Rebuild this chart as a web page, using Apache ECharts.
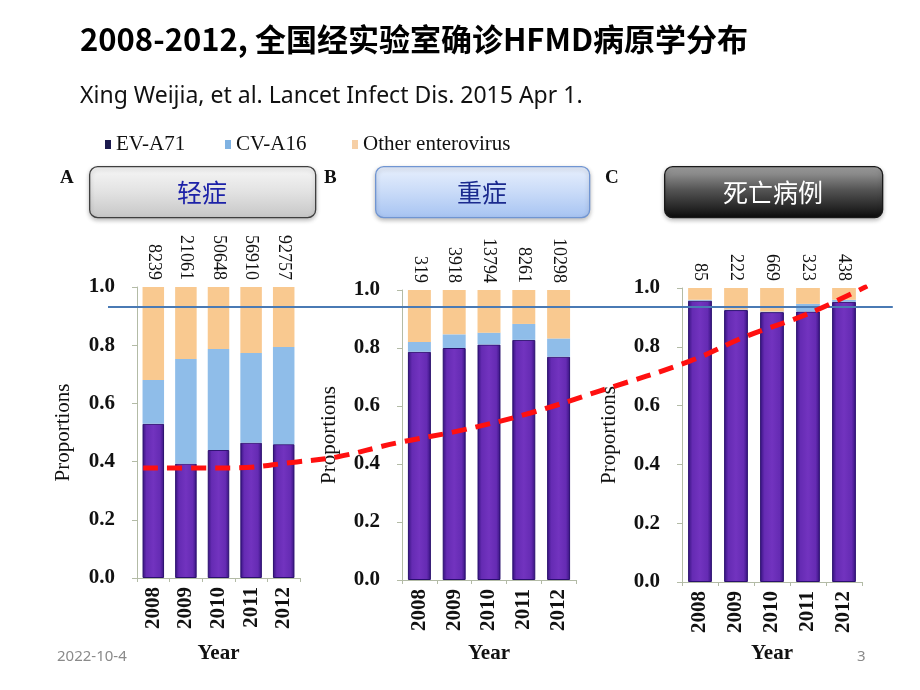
<!DOCTYPE html>
<html><head><meta charset="utf-8">
<script src="https://cdn.jsdelivr.net/npm/echarts@6/dist/echarts.min.js"></script>
<style>html,body{margin:0;padding:0;background:#fff}#c{width:920px;height:690px}</style>
</head><body><div id="c"></div>
<script>
const years = ['2008','2009','2010','2011','2012'];
const countsMild = ['8239','21061','50648','56910','92757'];
const countsSevere = ['319','3918','13794','8261','10298'];
const countsDeath = ['85','222','669','323','438'];
const mildEV = [0.53,0.393,0.44,0.465,0.46];
const mildCV = [0.15,0.36,0.347,0.308,0.334];
const mildOther = [0.32,0.247,0.213,0.227,0.206];
const severeEV = [0.787,0.80,0.812,0.828,0.77];
const severeCV = [0.034,0.047,0.041,0.055,0.063];
const severeOther = [0.179,0.153,0.147,0.117,0.167];
const deathEV = [0.957,0.925,0.918,0.92,0.953];
const deathCV = [0.003,0.002,0.002,0.026,0.007];
const deathOther = [0.04,0.073,0.08,0.054,0.04];
const yTicks = [0,0.2,0.4,0.6,0.8,1.0];
// trend annotation: x = percent across the figure width (overlay axis), y = proportion
const trendX = [5.4,16.3,24.6,29.6,37.1,45.4,53.8,62.5,73.8,80.9,88.4,95.9];
const trendY = [0.378,0.378,0.399,0.416,0.464,0.509,0.567,0.643,0.746,0.832,0.907,1.003];
const refLineX = [1,99.1];
const refLineY = [0.931,0.931];
const seriesNames = ['EV-A71','CV-A16','Other enterovirus'];
const panelTitles = ['轻症','重症','死亡病例'];
const panelLetters = ['A','B','C'];

const SERIF = '"Liberation Serif","Times New Roman",serif';
const evColor = {type:'linear',x:0,y:0,x2:1,y2:0,colorStops:[
  {offset:0,color:'#36137e'},{offset:0.18,color:'#652bb3'},{offset:0.5,color:'#7233bf'},
  {offset:0.82,color:'#652bb3'},{offset:1,color:'#36137e'}]};
const cvColor = '#8fbde9';
const otColor = '#f9c990';

const grids = [
  {left:137, top:287, width:163, height:291},
  {left:402, top:290, width:174, height:290},
  {left:682, top:288, width:180, height:294},
  {left:100, top:287, width:800, height:291}
];
const yearGap = [65,63,61];
const propGap = [63,62,62];
const counts = [countsMild, countsSevere, countsDeath];
const data = [[mildEV,mildCV,mildOther],[severeEV,severeCV,severeOther],[deathEV,deathCV,deathOther]];
const axisCol = '#b3bba6';

const xAxis = [], yAxis = [], series = [];
for (let i=0;i<3;i++){
  xAxis.push({type:'category', gridIndex:i, data:years, position:'bottom',
    axisLine:{lineStyle:{color:axisCol,width:1}},
    axisTick:{show:true,length:4,lineStyle:{color:axisCol}},
    axisLabel:{rotate:90, margin:9, fontFamily:SERIF, fontWeight:'bold', fontSize:21, color:'#111'},
    name:'Year', nameLocation:'middle', nameGap:yearGap[i],
    nameTextStyle:{fontFamily:SERIF, fontWeight:'bold', fontSize:21, color:'#111'}});
  xAxis.push({type:'category', gridIndex:i, data:counts[i], position:'top',
    axisLine:{show:false}, axisTick:{show:false},
    axisLabel:{rotate:90, margin:7, fontFamily:SERIF, fontSize:18, color:'#111'}});
  yAxis.push({type:'value', gridIndex:i, min:0, max:1, interval:0.2,
    splitLine:{show:false},
    axisLine:{show:true,lineStyle:{color:axisCol,width:1}},
    axisTick:{show:true,length:5,lineStyle:{color:axisCol}},
    axisLabel:{margin:22, fontFamily:SERIF, fontWeight:'bold', fontSize:21, color:'#111',
      formatter:v=>v.toFixed(1)},
    name:'Proportions', nameLocation:'middle', nameGap:propGap[i],
    nameTextStyle:{fontFamily:SERIF, fontSize:21, color:'#111'}});
  const cols=[evColor,cvColor,otColor];
  for (let s=0;s<3;s++){
    series.push({type:'bar', name:seriesNames[s], xAxisIndex:i*2, yAxisIndex:i, stack:'p'+i,
      data:data[i][s], barCategoryGap:'34%',
      itemStyle:{color:cols[s], borderColor: s===0?'#2a0f6e':null, borderWidth: s===0?1:0},
      emphasis:{disabled:true}});
  }
}
// overlay axes for annotations
xAxis.push({type:'value', gridIndex:3, min:0, max:100, show:false});
yAxis.push({type:'value', gridIndex:3, min:0, max:1, show:false});
series.push({type:'line', xAxisIndex:6, yAxisIndex:3, data:refLineX.map((x,k)=>[x,refLineY[k]]),
  symbol:'none', lineStyle:{color:'#4a7ab4', width:2}, z:5, silent:true});
series.push({type:'line', xAxisIndex:6, yAxisIndex:3, data:trendX.map((x,k)=>[x,trendY[k]]),
  symbol:'none', smooth:0.4, lineStyle:{color:'#ff1010', width:5, type:[15,9]}, z:6, silent:true});

const legendPos = [100, 220, 347];
const legendMarker = ['#1c1a4e','#7fb2e2','#f6cfa6'];
const legends = seriesNames.map((n,k)=>({left:legendPos[k], top:129, icon:'rect', itemWidth:6, itemHeight:9,
  data:[{name:n, itemStyle:{color:legendMarker[k], borderWidth:0}}],
  textStyle:{fontFamily:SERIF, fontSize:21, color:'#111'}, selectedMode:false}));

const boxes = [
  {x:89, w:226, fill:[['#f7f7f7',0],['#e2e2e2',0.5],['#c6c6c6',1]], stroke:'#3f3f3f', tc:'#1d22a8'},
  {x:375, w:214, fill:[['#e8f0fd',0],['#c9dbf8',0.5],['#a6c3f2',1]], stroke:'#7095d2', tc:'#1b2a8e'},
  {x:664, w:218, fill:[['#a5a5a5',0],['#555555',0.45],['#0b0b0b',1]], stroke:'#1a1a1a', tc:'#ffffff'}
];
const graphic = [];
boxes.forEach((b,k)=>{
  graphic.push({type:'rect', left:b.x, top:166, shape:{width:b.w, height:51, r:8},
    style:{fill:{type:'linear',x:0,y:0,x2:0,y2:1,colorStops:b.fill.map(c=>({offset:c[1],color:c[0]}))},
      stroke:b.stroke, lineWidth:1.3, shadowBlur:4, shadowOffsetY:2, shadowColor:'rgba(0,0,0,0.25)'}});
  graphic.push({type:'text', x:b.x+b.w/2, y:192, style:{text:panelTitles[k], fill:b.tc,
    font:'25px "Noto Sans CJK SC"', textAlign:'center', textVerticalAlign:'middle'}});
});
const letterX = [60,324,605];
panelLetters.forEach((t,k)=>graphic.push({type:'text', left:letterX[k], top:169,
  style:{text:t, font:'bold 19px "Liberation Serif"', fill:'#111'}}));
graphic.push({type:'text', left:80, top:24, style:{text:'2008-2012, 全国经实验室确诊HFMD病原学分布',
  font:'bold 31px "Noto Sans CJK SC"', fill:'#000'}});
graphic.push({type:'text', left:80, top:85, style:{text:'Xing Weijia, et al. Lancet Infect Dis. 2015 Apr 1.',
  font:'23px "Noto Sans"', fill:'#111'}});
graphic.push({type:'text', left:57, top:649, style:{text:'2022-10-4', font:'15px "Noto Sans"', fill:'#8a8a8a'}});
graphic.push({type:'text', left:857, top:649, style:{text:'3', font:'15px "Noto Sans"', fill:'#8a8a8a'}});

const chart = echarts.init(document.getElementById('c'), null, {renderer:'canvas'});
chart.setOption({animation:false, backgroundColor:'#fff', grid:grids, xAxis, yAxis, series,
  legend:legends, graphic});
</script></body></html>
